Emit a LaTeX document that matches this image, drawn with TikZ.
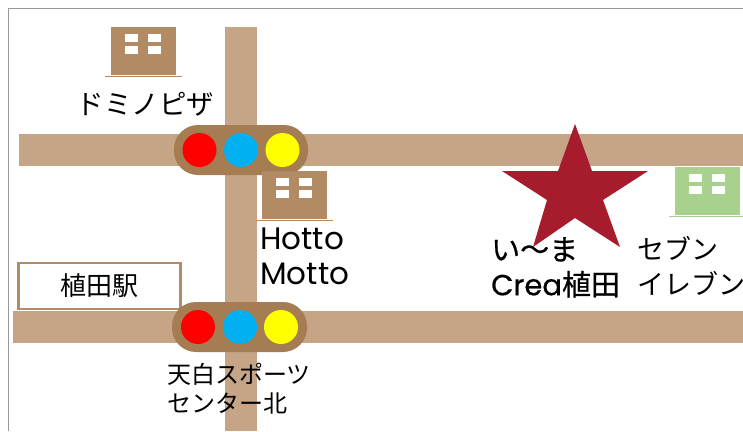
\documentclass[tikz,border=0pt]{standalone}
\usepackage{fontspec}
\setmainfont{Noto Sans CJK JP}
\newfontfamily\latinf{Poppins}
\newfontfamily\boldjpf[FakeBold=0.6]{Noto Sans CJK JP}
\newfontfamily\boldlatinf[FakeBold=0.6]{Poppins}
\definecolor{road}{HTML}{C5A586}
\definecolor{signalbody}{HTML}{A67C52}
\definecolor{bldg}{HTML}{B28A63}
\definecolor{seven}{HTML}{A9D18E}
\definecolor{starred}{HTML}{A61C2C}
\definecolor{lightblue}{HTML}{00B0F0}
\definecolor{lampyellow}{HTML}{FFFF00}
\definecolor{lampred}{HTML}{FF0000}
\tikzset{
  roadfill/.style={fill=road,draw=none},
  lamp/.style={circle,minimum size=34pt,inner sep=0pt,draw=none},
  signalbox/.style={fill=signalbody,draw=none,rounded corners=24pt},
  label/.style={text=black,inner sep=0pt,align=left,anchor=north west},
}
\newcommand{\bldgat}[3]{%
  \fill[#3] (#1,#2) rectangle ++(65,48);
  \draw[#3,line width=1pt] (#1-6,#2+49) -- ++(77,0);
  \foreach \wx in {14,37}{\foreach \wy in {7,19}{
    \fill[white] (#1+\wx,#2+\wy) rectangle ++(13,7.5);}}
}
\begin{document}
\begin{tikzpicture}[x=1pt,y=-1pt]
\useasboundingbox (0,0) rectangle (743,431);
\fill[white] (0,0) rectangle (743,431);
\draw[gray!80,line width=1pt] (8.5,431) -- (8.5,8.5) -- (743,8.5);
% roads
\fill[roadfill] (225,27) rectangle (257,431);
\fill[roadfill] (19,134) rectangle (743,166);
\fill[roadfill] (13,311) rectangle (743,343);
% station
\node[draw=bldg,line width=2.5pt,fill=white,minimum width=162pt,minimum height=46pt,inner sep=0pt,font=\fontsize{26}{26}\selectfont] (station) at (99.5,286) {植田駅};
% signals
\fill[signalbox] (174,125) rectangle (308,175);
\node[lamp,fill=lampred] (r1) at (199.5,150) {};
\node[lamp,fill=lightblue] (b1) at (241,150) {};
\node[lamp,fill=lampyellow] (y1) at (282.5,150) {};
\fill[signalbox] (172,302) rectangle (307,352);
\node[lamp,fill=lampred] (r2) at (198,327) {};
\node[lamp,fill=lightblue] (b2) at (240,327) {};
\node[lamp,fill=lampyellow] (y2) at (281,327) {};
% buildings
\bldgat{111}{27}{bldg}
\bldgat{262}{171}{bldg}
\bldgat{675}{167}{seven}
% star
\fill[starred] (575,124) -- (592,171) -- (648,171) -- (603,200) -- (620,247) -- (575,218) -- (533,247) -- (547,200) -- (502,171) -- (558,171) -- cycle;
% labels
\node[inner sep=0pt,font=\fontsize{27.5}{27}\selectfont] (domino) at (145.5,104) {ドミノピザ};
\node[label,font=\latinf\fontsize{31}{35}\selectfont] (hotto) at (260,228) {Hotto\\Motto};
\node[label,font=\fontsize{24}{29}\selectfont] (tenpaku) at (167,363) {天白スポーツ\\センター北};
\node[label,font=\boldjpf\fontsize{29}{35}\selectfont] (ima) at (491,237) {い〜ま\\{\boldlatinf Crea}植田};
\node[label,font=\fontsize{27}{35}\selectfont] (seven) at (637,236) {セブン\\イレブン};
\end{tikzpicture}
\end{document}
